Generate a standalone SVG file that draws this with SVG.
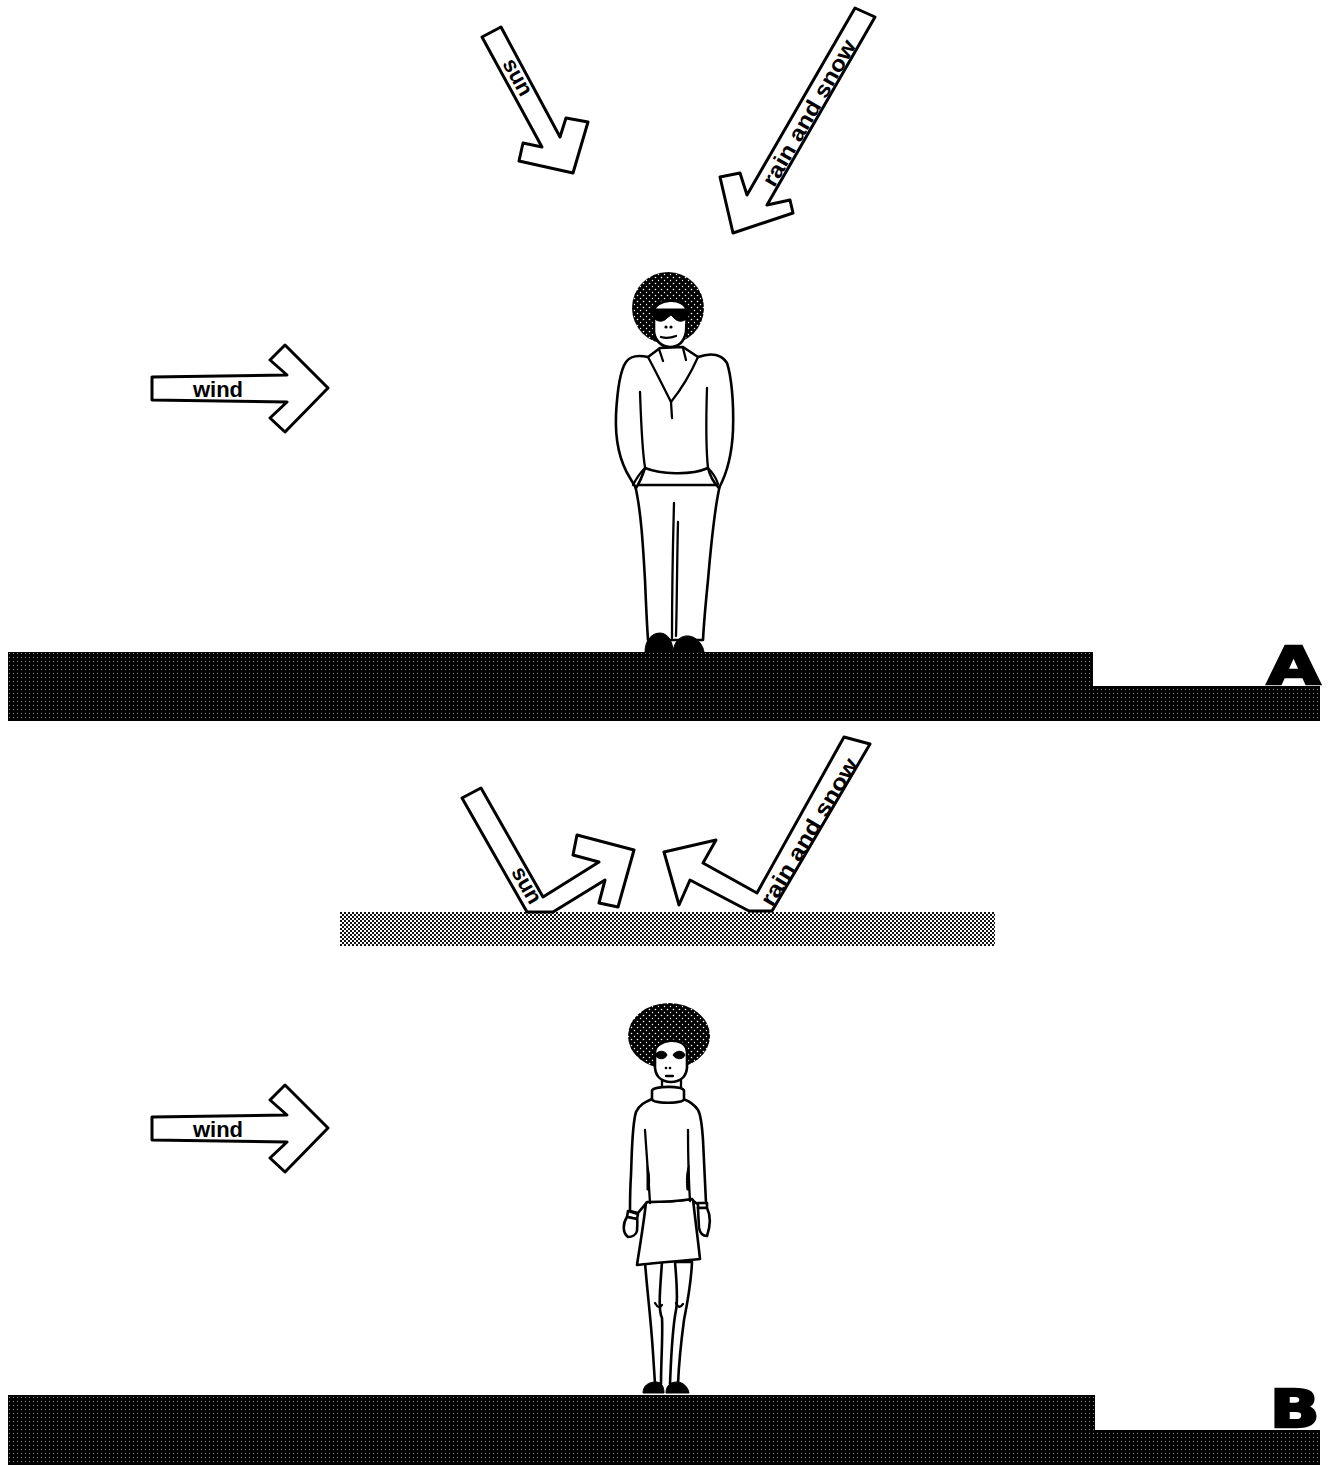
<svg xmlns="http://www.w3.org/2000/svg" width="1330" height="1465" viewBox="0 0 1330 1465">
  <defs>
    <!-- dark dithered ground -->
    <pattern id="groundTex" width="4" height="4" patternUnits="userSpaceOnUse">
      <rect width="4" height="4" fill="#000"/>
      <rect x="1" y="1" width="1" height="1" fill="#fff" opacity="0.55"/>
    </pattern>
    <!-- mid-grey checker for the canopy -->
    <pattern id="canopyTex" width="4" height="4" patternUnits="userSpaceOnUse">
      <rect width="4" height="4" fill="#fff"/>
      <rect width="2" height="2" fill="#111"/>
      <rect x="2" y="2" width="2" height="2" fill="#111"/>
    </pattern>
    <!-- stippled hair -->
    <pattern id="hairTex" width="6" height="6" patternUnits="userSpaceOnUse">
      <rect width="6" height="6" fill="#000"/>
      <circle cx="1.5" cy="1.5" r="0.8" fill="#fff"/>
      <circle cx="4.5" cy="4.5" r="0.7" fill="#fff"/>
    </pattern>
  </defs>
  <style>
    .arrow { fill: #fff; stroke: #000; stroke-width: 3; stroke-linejoin: round; }
    .label { font-family: "Liberation Sans", Arial, sans-serif; font-weight: bold; font-size: 22px; fill: #000; }
    .big { font-family: "DejaVu Sans", "Liberation Sans", sans-serif; font-weight: bold; font-size: 52px; fill: #000; stroke: #000; stroke-width: 2.5; }
    .ink { fill: #fff; stroke: #000; stroke-width: 2.6; stroke-linejoin: round; stroke-linecap: round; }
    .line { fill: none; stroke: #000; stroke-width: 2.3; stroke-linecap: round; stroke-linejoin: round; }
    .solid { fill: #000; stroke: #000; stroke-width: 1; }
  </style>

  <rect width="1330" height="1465" fill="#fff"/>

  <!-- ===== Panel A ===== -->
  <g id="ground-a">
    <path d="M8,652 L1093,652 L1093,686 L1320,686 L1320,721 L8,721 Z" fill="url(#groundTex)"/>
    <text class="big" x="0" y="0" transform="translate(1267,684) scale(1.32,1)">A</text>
  </g>

  <g id="man">
    <!-- hair and face -->
    <ellipse cx="668" cy="308" rx="36" ry="36" fill="url(#hairTex)"/>
    <path class="ink" d="M654,312 C653,299 686,295 687,312 L686,332 C684,342 678,347 670,347 C661,347 655,340 654,332 Z"/>
    <path class="solid" d="M651,309 L689,309 L688,316 C686,322 678,323 674,318 L671,315 L667,318 C663,323 655,322 653,316 Z"/>
    <circle cx="666" cy="327" r="1.6"/>
    <circle cx="671" cy="327" r="1.6"/>
    <path class="line" d="M661,337 Q668,339 676,336"/>
    <!-- trousers -->
    <path class="ink" d="M635,485 C641,510 643,545 645,580 C646,605 647,625 648,640 L703,640 C704,620 706,600 708,580 C711,545 714,510 720,485 Z"/>
    <path class="line" d="M674,503 C673,540 672,590 672,638"/>
    <path class="line" d="M678,522 C677,560 677,600 676,636" stroke-width="1.6"/>
    <!-- sweater -->
    <path class="ink" d="M660,348 L648,357 C638,355 630,356 626,362 C619,372 617,395 616,415 C615,440 620,462 630,478 L636,488 C640,482 643,474 645,468 C660,474 690,476 708,468 C710,476 714,483 719,488 C726,475 732,455 733,430 C734,400 731,375 727,363 C722,355 712,352 698,357 L683,347 Z"/>
    <path class="line" d="M648,357 C656,372 665,390 671,402 L672,418"/>
    <path class="line" d="M698,357 C690,375 679,392 671,402"/>
    <path class="line" d="M659,349 L663,361"/>
    <path class="line" d="M683,348 L686,360"/>
    <path class="line" d="M640,392 C641,420 642,450 645,467"/>
    <path class="line" d="M707,388 C706,420 706,450 708,468"/>
    <path class="line" d="M645,468 C640,473 636,479 633,485"/>
    <path class="line" d="M708,468 C712,472 716,477 718,484"/>
    <!-- shoes -->
    <path class="solid" d="M645,652 C645,640 652,633 660,633 C668,633 673,642 673,652 Z"/>
    <path class="solid" d="M673,652 C674,641 681,635 689,636 C697,637 703,645 704,652 Z"/>
  </g>

  <!-- ===== Panel B ===== -->
  <g id="canopy">
    <rect x="340" y="912" width="655" height="34" fill="url(#canopyTex)"/>
  </g>

  <g id="ground-b">
    <path d="M8,1395 L1095,1395 L1095,1430 L1320,1430 L1320,1465 L8,1465 Z" fill="url(#groundTex)"/>
    <text class="big" x="0" y="0" transform="translate(1270,1427) scale(1.25,1)">B</text>
  </g>

  <g id="woman">
    <!-- hair and face -->
    <ellipse cx="669" cy="1036" rx="41" ry="33" fill="url(#hairTex)"/>
    <path class="ink" d="M655,1052 C655,1039 686,1035 687,1052 L687,1068 C686,1077 680,1082 671,1082 C662,1082 656,1077 655,1068 Z"/>
    <path class="solid" d="M655,1055 C658,1050 665,1050 667,1055 C665,1060 658,1060 655,1055 Z"/>
    <path class="solid" d="M673,1055 C676,1050 683,1050 685,1055 C683,1060 676,1060 673,1055 Z"/>
    <circle cx="666" cy="1068" r="1.3"/>
    <circle cx="670" cy="1068" r="1.3"/>
    <path class="line" d="M666,1076 L673,1076"/>
    <!-- legs -->
    <path class="ink" d="M645,1262 C647,1290 651,1320 653,1353 L655,1384 L661,1384 C661,1360 663,1335 662,1318 C658,1310 660,1290 662,1262 Z"/>
    <path class="ink" d="M675,1262 C677,1285 678,1300 676,1310 C672,1330 671,1360 670,1384 L678,1384 C679,1360 682,1335 684,1320 C688,1300 691,1285 692,1262 Z"/>
    <path class="line" d="M655,1303 Q659,1310 662,1305" stroke-width="1.6"/>
    <path class="line" d="M676,1303 Q679,1310 683,1304" stroke-width="1.6"/>
    <!-- skirt -->
    <path class="ink" d="M646,1202 C644,1222 640,1245 637,1265 C655,1263 680,1261 700,1259 C698,1240 695,1218 693,1199 C680,1201 660,1202 646,1202 Z"/>
    <!-- sweater and arms -->
    <path class="ink" d="M652,1099 C645,1102 639,1105 636,1112 C632,1125 632,1150 631,1175 C630,1190 630,1200 630,1211 L638,1213 C642,1208 645,1205 647,1202 C660,1202 680,1201 692,1199 C695,1203 698,1204 699,1204 L706,1203 C705,1180 704,1160 703,1140 C702,1125 701,1115 698,1110 C694,1104 689,1101 683,1099 Z"/>
    <path class="line" d="M645,1130 C647,1160 649,1185 650,1203"/>
    <path class="line" d="M688,1130 C688,1160 689,1185 690,1201"/>
    <path class="solid" d="M647,1165 C650,1172 650,1182 649,1190 L647,1190 Z"/>
    <path class="solid" d="M689,1165 C686,1172 686,1182 687,1190 L689,1190 Z"/>
    <!-- cuffs and hands -->
    <path class="ink" d="M628,1211 L638,1214 L637,1219 L627,1217 Z"/>
    <path class="ink" d="M698,1203 L707,1203 L707,1208 L698,1208 Z"/>
    <path class="ink" d="M627,1217 C623,1223 622,1232 628,1237 C632,1237 636,1235 637,1231 C637,1226 638,1222 637,1219 Z"/>
    <path class="ink" d="M698,1208 L707,1208 C710,1214 711,1224 707,1236 C703,1236 700,1233 699,1228 Z"/>
    <!-- turtleneck collar -->
    <path class="line" d="M662,1080 L662,1089 M681,1080 L681,1089"/>
    <path class="ink" d="M652,1091 C652,1086 684,1085 684,1091 L684,1099 C684,1104 652,1104 652,1099 Z"/>
    <!-- shoes -->
    <path class="solid" d="M643,1393 C643,1386 648,1382 656,1382 C661,1382 664,1386 664,1393 Z"/>
    <path class="solid" d="M666,1393 C666,1386 670,1382 677,1382 C683,1382 688,1387 689,1393 Z"/>
  </g>

  <!-- ===== Arrows ===== -->
  <g id="connectors">
    <!-- panel A -->
    <g id="sun-a">
      <polygon class="arrow" points="482,37 501,27 560,137 566,118 588,122 573,173 519,161 523,143 542,147"/>
      <text class="label" x="518" y="77" text-anchor="middle" dominant-baseline="central" transform="rotate(61 518 77)">sun</text>
    </g>
    <g id="rain-a">
      <polygon class="arrow" points="855,8 875,17 767,205 790,200 793,213 733,233 720,177 740,173 747,195"/>
      <text class="label" x="809" y="113" text-anchor="middle" dominant-baseline="central" textLength="165" lengthAdjust="spacingAndGlyphs" transform="rotate(-60 809 113)">rain and snow</text>
    </g>
    <g id="wind-a">
      <polygon class="arrow" points="152,377 287,375 270,360 285,345 328,388 285,432 270,418 287,402 152,400"/>
      <text class="label" x="218" y="397" text-anchor="middle">wind</text>
    </g>
    <!-- panel B -->
    <g id="sun-b">
      <polygon class="arrow" points="462,798 481,788 543,897 599,862 573,855 577,835 634,850 618,907 599,903 605,880 553,912 527,912"/>
      <text class="label" x="527" y="885" text-anchor="middle" dominant-baseline="central" transform="rotate(60 527 885)">sun</text>
    </g>
    <g id="rain-b">
      <polygon class="arrow" points="844,737 870,744 772,911 749,911 690,880 679,905 664,852 716,840 703,863 757,893"/>
      <text class="label" x="809" y="832" text-anchor="middle" dominant-baseline="central" textLength="168" lengthAdjust="spacingAndGlyphs" transform="rotate(-59 809 832)">rain and snow</text>
    </g>
    <g id="wind-b">
      <polygon class="arrow" points="152,1117 287,1115 270,1100 285,1085 328,1128 285,1172 270,1158 287,1142 152,1140"/>
      <text class="label" x="218" y="1137" text-anchor="middle">wind</text>
    </g>
  </g>
</svg>
